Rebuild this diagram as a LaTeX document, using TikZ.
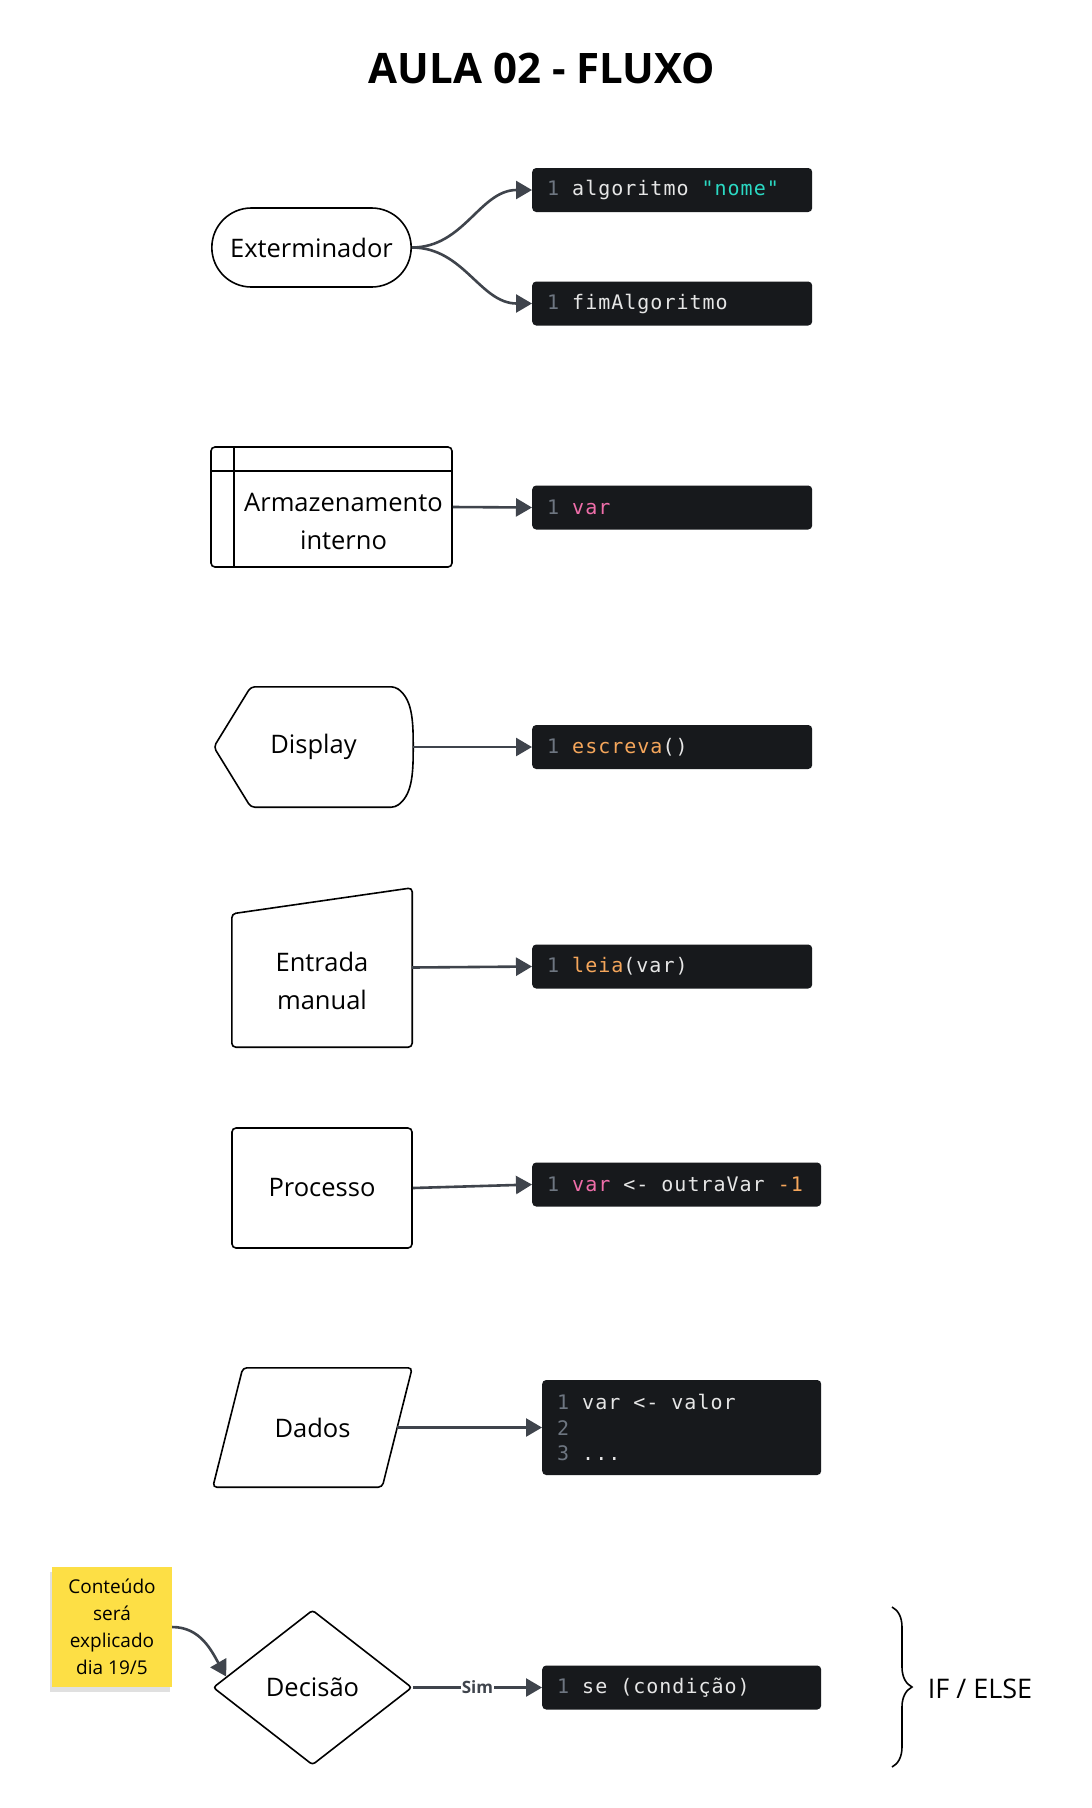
\documentclass[tikz,border=0pt]{standalone}
\usepackage{fontspec}
\setmainfont{Open Sans}
\setmonofont[LetterSpace=5]{DejaVu Sans Mono}
\usetikzlibrary{arrows.meta,shapes.geometric,shapes.misc,positioning,calc,decorations.pathreplacing,shadows}

\definecolor{codefundo}{HTML}{17191C}
\definecolor{codenum}{HTML}{6E7681}
\definecolor{codetexto}{HTML}{E6E6E6}
\definecolor{codeciano}{HTML}{2BD9C3}
\definecolor{coderosa}{HTML}{F06EAA}
\definecolor{codelaranja}{HTML}{F5A65B}
\definecolor{setacor}{HTML}{3F444C}
\definecolor{notaamarela}{HTML}{FDDF45}

\newcommand{\lnum}[1]{\textcolor{codenum}{#1}}
\newcommand{\esp}{\hspace*{13pt}}

\begin{document}
\begin{tikzpicture}[
    x=1pt, y=-1pt,
    forma/.style={draw=black, line width=1.6pt, rounded corners=4pt},
    term/.style={draw=black, line width=1.6pt, rounded rectangle, minimum width=206pt, minimum height=79pt, font=\fontsize{25.5}{38}\selectfont},
    rotulo/.style={font=\fontsize{25.5}{38}\selectfont, align=center},
    codigo/.style={fill=codefundo, rounded corners=4pt, text=codetexto, font=\ttfamily\fontsize{20}{25.5}\selectfont, align=left, text width=250pt, inner xsep=15pt, inner ysep=0pt, minimum height=44pt, anchor=west},
    seta/.style={-{Triangle[length=16pt,width=18pt]}, line width=2.6pt, draw=setacor},
    sim/.style={font=\bfseries\fontsize{17}{17}\selectfont, text=setacor, fill=white, inner sep=1pt},
    nota/.style={fill=notaamarela, minimum width=120pt, minimum height=120pt, align=center, font=\fontsize{19}{27}\selectfont, drop shadow={shadow xshift=-2pt, shadow yshift=-5pt, fill=black, opacity=0.12}},
    chave/.style={decorate, decoration={brace, amplitude=20pt}, line width=1.6pt},
    titulo/.style={font=\bfseries\fontsize{42}{42}\selectfont}
]
\path[fill=white] (0,0) rectangle (1092,1808);
\useasboundingbox (0,0) rectangle (1092,1808);

\node[titulo] (titulo) at (542,68) {AULA 02 - FLUXO};

% terminador
\node[term] (exterm) at (311.5,247.5) {Exterminador};
\node[codigo] (alg) at (532,190) {\lnum{1}\esp algoritmo\esp\textcolor{codeciano}{"nome"}};
\node[codigo] (fim) at (532,303.5) {\lnum{1}\esp fimAlgoritmo};
\draw[seta] (exterm.east) to[out=0,in=180] (alg.west);
\draw[seta] (exterm.east) to[out=0,in=180] (fim.west);

% armazenamento interno
\node[forma, minimum width=241pt, minimum height=120pt] (armaz) at (331.5,507) {};
\draw[line width=1.6pt] ($(armaz.north west)+(24,0)$) -- ($(armaz.south west)+(24,0)$);
\draw[line width=1.6pt] ($(armaz.north west)+(0,25)$) -- ($(armaz.north east)+(0,25)$);
\node[rotulo] (armaztxt) at (343.5,521) {Armazenamento\\interno};
\node[codigo] (var) at (532,507.5) {\lnum{1}\esp\textcolor{coderosa}{var}};
\draw[seta] (armaz.east) -- (var.west);

% display
\node[rotulo, minimum width=199pt, minimum height=120pt] (display) at (313.5,747) {Display};
\draw[forma] (display.west) -- ($(display.north west)+(37,0)$) -- ($(display.north east)+(-18,0)$)
    .. controls ($(display.north east)+(-2,12)$) and ($(display.east)+(0,-30)$) .. (display.east)
    .. controls ($(display.east)+(0,30)$) and ($(display.south east)+(-2,-12)$) .. ($(display.south east)+(-18,0)$)
    -- ($(display.south west)+(37,0)$) -- cycle;
\node[codigo] (escreva) at (532,747) {\lnum{1}\esp\textcolor{codelaranja}{escreva}()};
\draw[seta] (display.east) -- (escreva.west);

% entrada manual
\node[minimum width=180pt, minimum height=159pt] (entrada) at (322,967.5) {};
\draw[forma] ($(entrada.north west)+(0,26)$) -- (entrada.north east) -- (entrada.south east) -- (entrada.south west) -- cycle;
\node[rotulo] (entradatxt) at (322,981) {Entrada\\manual};
\node[codigo] (leia) at (532,966.5) {\lnum{1}\esp\textcolor{codelaranja}{leia}(var)};
\draw[seta] (entrada.east) -- (leia.west);

% processo
\node[forma, rotulo, minimum width=180pt, minimum height=120pt] (processo) at (322,1188) {Processo};
\node[codigo, text width=259pt] (outra) at (532,1184.5) {\lnum{1}\esp\textcolor{coderosa}{var}\esp<-\esp outraVar\esp\textcolor{codelaranja}{-1}};
\draw[seta] (processo.east) -- (outra.west);

% dados
\node[rotulo, minimum width=199pt, minimum height=119pt] (dados) at (312.5,1427.5) {Dados};
\draw[forma] ($(dados.north west)+(30,0)$) -- (dados.north east) -- ($(dados.south east)+(-30,0)$) -- (dados.south west) -- cycle;
\coordinate (dadosdir) at ($(dados.east)+(-15,0)$);
\node[codigo, text width=249pt, minimum height=95pt] (dadoscod) at (542,1427.5) {\lnum{1}\esp var\esp<-\esp valor\\\lnum{2}\\\lnum{3}\esp...};
\draw[seta] (dadosdir) -- (dadoscod.west);

% decisao
\node[draw=black, line width=1.6pt, rounded corners=3pt, diamond, rotulo, minimum width=199pt, minimum height=155pt, inner sep=0pt] (decisao) at (312.5,1687.5) {Decisão};
\node[codigo, text width=249pt] (se) at (542,1687.5) {\lnum{1}\esp se\esp(condição)};
\draw[seta] (decisao.east) -- node[sim] {Sim} (se.west);

\node[nota] (nota) at (112,1627) {Conteúdo\\será\\explicado\\dia 19/5};
\coordinate (decisaoborda) at ($(decisao.west)!0.14!(decisao.north)$);
\draw[seta] (nota.east) to[out=0,in=120] (decisaoborda);

\coordinate (chavetopo) at (892,1607);
\coordinate (chavebase) at (892,1767);
\draw[chave] (chavetopo) -- (chavebase);
\node[rotulo, font=\fontsize{27}{38}\selectfont] (ifelse) at (980,1689) {IF / ELSE};
\end{tikzpicture}
\end{document}
